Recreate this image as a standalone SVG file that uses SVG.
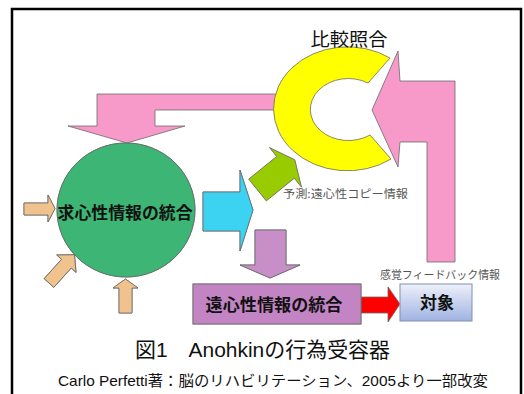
<svg xmlns="http://www.w3.org/2000/svg" xmlns:xlink="http://www.w3.org/1999/xlink" width="524" height="394" viewBox="0 0 524 394">
<style>
.jp{font-family:"Noto Sans CJK JP","Noto Sans",sans-serif;}
.cap{font-family:"Liberation Sans","Noto Sans CJK JP",sans-serif;}
.shape{stroke:#6a6a6a;stroke-width:0.8;stroke-linejoin:miter;}
.pink{fill:#f799c9;}
.tan{fill:#f0c28e;}
.lbl{font-family:"Noto Sans CJK JP",sans-serif;font-weight:bold;fill:#111;}
.small{font-family:"Noto Sans CJK JP",sans-serif;font-size:11px;fill:#555;}
</style>
<defs>
<pattern id="grid" width="3" height="3" patternUnits="userSpaceOnUse">
<path d="M0,0.5H3M0.5,0V3" stroke="#ffffff" stroke-width="0.6" opacity="0.35"/>
</pattern>
<pattern id="dots" width="3" height="3" patternUnits="userSpaceOnUse">
<circle cx="1.5" cy="1.5" r="0.6" fill="#ffffff" opacity="0.4"/>
</pattern>
<linearGradient id="objGrad" x1="0" y1="0" x2="0" y2="1">
<stop offset="0" stop-color="#eef0fa"/>
<stop offset="1" stop-color="#9fb3e2"/>
</linearGradient>
</defs>
<rect x="12" y="9" width="509" height="395" fill="#ffffff" stroke="#000" stroke-width="2.5"/>
<g id="connectors">
<path id="fb-top" class="shape pink" d="M282,94 L97,94 L97,126 L68,126 L127,143 L185,126 L155,126 L155,110 L282,110 Z"/>
<path id="fb-right" class="shape pink" d="M455,81 L400,81 L398,51 L372,110 L398,167 L400,142 L427,142 L427,262 L455,262 Z"/>
<g id="green-arrow" transform="translate(257.5,190) rotate(-39)">
<path class="shape" fill="#99cc00" d="M0,-14 L36,-14 L36,-25.5 L48,0 L36,25.5 L36,14 L0,14 Z"/>
</g>
<g id="cyan-arrow">
<path id="cyanp" class="shape" fill="#3cd2f2" d="M203,192 L240,192 L240,170 L253,210 L240,251 L240,231 L203,231 Z"/>
<use xlink:href="#cyanp" fill="url(#dots)" stroke="none"/>
</g>
<g id="purple-arrow">
<path id="purp" class="shape" fill="#c78ec8" d="M255,230 L286,230 L286,265 L300,265 L270,278 L240,265 L255,265 Z"/>
<use xlink:href="#purp" fill="url(#grid)" stroke="none"/>
</g>
<path id="red-arrow" class="shape" fill="#ff0000" d="M361,297 L388,297 L388,287 L400,304 L388,322 L388,313 L361,313 Z"/>
<g id="tan-arrows">
<path id="tan1" class="shape tan" d="M24,203 L48,203 L48,195 L55,208.5 L48,222 L48,215 L24,215 Z"/>
<use xlink:href="#tan1" fill="url(#grid)" stroke="none"/>
<g transform="translate(49,283) rotate(-48)">
<path id="tan2" class="shape tan" d="M0,-6.5 L26,-6.5 L26,-13 L38,0 L26,13 L26,6.5 L0,6.5 Z"/>
<use xlink:href="#tan2" fill="url(#grid)" stroke="none"/>
</g>
<path id="tan3" class="shape tan" d="M119,313 L119,288 L113,288 L125.5,279 L138,288 L132,288 L132,313 Z"/>
<use xlink:href="#tan3" fill="url(#grid)" stroke="none"/>
</g>
</g>
<g id="comparison">
<path class="shape" fill="#ffff00" d="M390,58 A74,62 0 1 0 391,159 L370,135 A38,31 0 1 1 368,83 Z"/>
<text class="jp" x="349" y="46" font-size="18" text-anchor="middle" fill="#111" textLength="77" lengthAdjust="spacingAndGlyphs">比較照合</text>
</g>
<g id="afferent">
<ellipse id="circ" class="shape" cx="126" cy="210" rx="69" ry="67" fill="#3db574"/>
<use xlink:href="#circ" fill="url(#grid)" stroke="none"/>
<text class="lbl" x="125" y="219" font-size="16.5" text-anchor="middle" textLength="135" lengthAdjust="spacingAndGlyphs">求心性情報の統合</text>
</g>
<g id="efferent">
<rect id="effbox" class="shape" x="193" y="284" width="168" height="40" fill="#c384c4"/>
<use xlink:href="#effbox" fill="url(#dots)" stroke="none"/>
<text class="lbl" x="274" y="311" font-size="16.5" text-anchor="middle" textLength="137" lengthAdjust="spacingAndGlyphs">遠心性情報の統合</text>
</g>
<g id="object">
<rect x="400" y="284" width="72" height="37" fill="url(#objGrad)" stroke="#8090b0" stroke-width="1"/>
<text class="lbl" x="437" y="309" font-size="17" text-anchor="middle">対象</text>
</g>
<g id="labels">
<text class="small" x="283" y="198" textLength="125" lengthAdjust="spacingAndGlyphs">予測:遠心性コピー情報</text>
<text class="small" x="380" y="279" textLength="120" lengthAdjust="spacingAndGlyphs">感覚フィードバック情報</text>
</g>
<g id="caption">
<text class="cap" x="135" y="357" font-size="21" fill="#111" textLength="255" lengthAdjust="spacingAndGlyphs">図1　Anohkinの行為受容器</text>
<text class="cap" x="58" y="386" font-size="14.5" fill="#111" textLength="430" lengthAdjust="spacingAndGlyphs">Carlo Perfetti著：脳のリハビリテーション、2005より一部改変</text>
</g>
</svg>
